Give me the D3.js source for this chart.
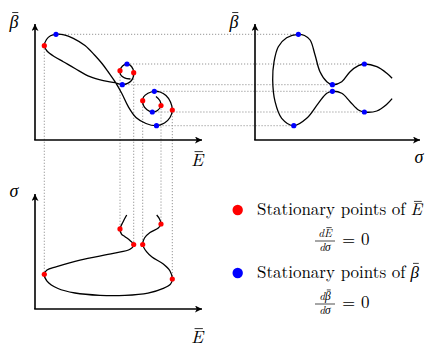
<!DOCTYPE html>
<html lang="en">
<head>
<meta charset="utf-8">
<script src="https://d3js.org/d3.v7.min.js"></script>
<style>
    body { margin: 0; background: #fff; }
    svg { display: block; }
    .curve { fill: none; stroke: #000; stroke-width: 1.3; }
    .guide { fill: none; stroke: #8a8a8a; stroke-width: 0.9; stroke-dasharray: 1.2,1.8; }
    .axis { stroke: #000; stroke-width: 1.6; }
</style>
</head>
<body>
<svg id="chart" width="436" height="354"></svg>
<script>
    // Solution branch seen in the (E, beta) plane, following the parameter along the curve
    const curveEBeta = [
        [9.55,6.10],[8.95,6.22],[8.58,6.50],[8.50,6.93],[8.75,7.40],[9.20,7.60],[9.65,7.35],
        [9.87,6.73],[9.65,5.95],[8.73,5.53],[8.00,5.73],[6.83,5.93],[5.50,6.33],[4.00,7.15],
        [2.83,7.83],[2.00,8.30],[1.20,8.90],[0.93,9.43],[1.15,10.05],[1.55,10.42],[2.10,10.57],
        [2.90,10.52],[3.83,10.17],[5.00,9.45],[6.00,8.45],[6.70,7.65],[7.33,6.80],[8.00,5.83],
        [8.67,4.67],[9.33,3.33],[10.10,2.25],[11.10,1.65],[12.15,1.43],[12.95,1.70],[13.50,2.25],
        [13.73,3.00],[13.55,3.80],[13.10,4.45],[12.50,4.80],[11.93,4.87],[11.30,4.68],[10.85,4.30],
        [10.77,3.93],[10.85,3.45],[11.20,3.02],[11.73,2.80],[12.25,2.95],[12.60,3.45],[12.48,3.95],
        [12.10,4.35]
    ];

    // Same branch in the (sigma, beta) plane
    const curveSigmaBeta = [
        [8.06,6.17],[7.75,6.67],[7.16,7.33],[6.43,7.60],[6.08,7.43],[5.59,6.83],[5.10,5.83],
        [4.55,5.53],[4.22,5.83],[3.82,6.83],[3.53,8.50],[3.24,10.00],[2.91,10.45],[2.55,10.57],
        [1.86,10.23],[1.37,9.33],[1.12,7.83],[1.04,6.00],[1.18,3.83],[1.57,2.17],[2.28,1.43],
        [3.04,2.17],[3.72,3.67],[4.22,4.67],[4.55,4.87],[5.10,4.67],[5.59,3.83],[6.08,3.00],
        [6.43,2.80],[7.16,2.90],[7.75,3.57],[8.06,4.13]
    ];

    // Same branch in the (E, sigma) plane
    const curveESigma = [
        [9.17,8.17],[8.80,7.57],[8.50,6.96],[8.65,6.52],[9.00,6.29],[9.50,5.96],[9.87,5.61],
        [9.50,5.19],[7.83,4.84],[4.50,4.26],[2.17,3.68],[1.20,3.39],[0.93,3.02],[1.20,2.43],
        [2.30,1.78],[4.00,1.39],[6.50,1.19],[9.00,1.19],[11.30,1.39],[12.83,1.80],[13.55,2.17],
        [13.73,2.61],[13.50,3.30],[12.83,3.91],[11.70,4.52],[11.17,4.96],[10.77,5.61],[10.95,6.17],
        [11.50,6.65],[12.33,7.04],[12.60,7.39],[12.45,7.83],[12.17,8.17]
    ];

    // Stationary points: [E, beta, sigma]
    const redPoints = [
        [0.93, 9.43, 3.02], [8.50, 6.93, 6.96], [9.87, 6.73, 5.61],
        [10.77, 3.93, 5.61], [12.60, 3.45, 7.39], [13.73, 3.00, 2.61]
    ];
    const bluePoints = [
        [2.10, 10.57, 2.55], [9.20, 7.60, 6.43], [8.73, 5.53, 4.55],
        [11.93, 4.87, 4.55], [11.73, 2.80, 6.43], [12.15, 1.43, 2.28]
    ];

    const legendColors = ["#ff0000", "#0000ff"];
    const legendText = ["Stationary points of", "Stationary points of"];
    const legendSymbols = ["E", "β"];

    const FONT = "Latin Modern Roman, Liberation Serif, serif";
    const svg = d3.select("#chart");

    // Scales (no ticks in this sketch, only the axis arrows)
    const xE = d3.scaleLinear().domain([0, 16.7]).range([35, 202]);
    const yB = d3.scaleLinear().domain([0, 11.6]).range([140, 24]);
    const xS = d3.scaleLinear().domain([0, 9.7]).range([255, 420]);
    const yS = d3.scaleLinear().domain([0, 10]).range([309, 194]);

    svg.append("defs").append("marker")
        .attr("id", "arrow")
        .attr("viewBox", "0 0 10 10")
        .attr("refX", 10).attr("refY", 5)
        .attr("markerUnits", "userSpaceOnUse")
        .attr("markerWidth", 8).attr("markerHeight", 7)
        .attr("orient", "auto")
        .append("path").attr("d", "M0,0L10,5L0,10L2.5,5Z").attr("fill", "#000");

    // Dotted guides first, so the curves sit on top
    const guides = svg.append("g");
    bluePoints.forEach(p => {
        guides.append("line").attr("class", "guide")
            .attr("x1", xE(p[0])).attr("y1", yB(p[1]))
            .attr("x2", xS(p[2])).attr("y2", yB(p[1]));
    });
    redPoints.forEach(p => {
        guides.append("line").attr("class", "guide")
            .attr("x1", xE(p[0])).attr("y1", yB(p[1]))
            .attr("x2", xE(p[0])).attr("y2", yS(p[2]));
    });

    // Axes
    function axes(x, y) {
        const x0 = x.range()[0], y0 = y.range()[0];
        svg.append("line").attr("class", "axis")
            .attr("x1", x0).attr("y1", y0).attr("x2", x0).attr("y2", y.range()[1])
            .attr("marker-end", "url(#arrow)");
        svg.append("line").attr("class", "axis")
            .attr("x1", x0 - 0.8).attr("y1", y0).attr("x2", x.range()[1]).attr("y2", y0)
            .attr("marker-end", "url(#arrow)");
    }
    axes(xE, yB);
    axes(xS, yB);
    axes(xE, yS);

    // Curves
    function drawCurve(data, x, y) {
        const line = d3.line()
            .x(d => x(d[0])).y(d => y(d[1]))
            .curve(d3.curveCatmullRom.alpha(0.5));
        svg.append("path").attr("class", "curve").attr("d", line(data));
    }
    drawCurve(curveEBeta, xE, yB);
    drawCurve(curveSigmaBeta, xS, yB);
    drawCurve(curveESigma, xE, yS);

    // Stationary point markers
    function dots(data, cx, cy, color) {
        svg.append("g").selectAll("circle").data(data).join("circle")
            .attr("cx", cx).attr("cy", cy).attr("r", 2.6).attr("fill", color);
    }
    dots(redPoints, d => xE(d[0]), d => yB(d[1]), legendColors[0]);
    dots(redPoints, d => xE(d[0]), d => yS(d[2]), legendColors[0]);
    dots(bluePoints, d => xE(d[0]), d => yB(d[1]), legendColors[1]);
    dots(bluePoints, d => xS(d[2]), d => yB(d[1]), legendColors[1]);

    function mathText(x, y, s, size, anchor) {
        return svg.append("text")
            .attr("font-family", FONT).attr("font-style", "italic")
            .attr("x", x).attr("y", y).attr("font-size", size)
            .attr("text-anchor", anchor || "middle").text(s);
    }
    // Overbar on character `idx` of an italic text
    function overbar(t, idx, y, size, sym) {
        const b = t.node().getExtentOfChar(idx);
        const yy = y - size * (sym === "β" ? 0.86 : 0.80);
        svg.append("line")
            .attr("x1", b.x + b.width * 0.3).attr("x2", b.x + b.width * 0.98)
            .attr("y1", yy).attr("y2", yy)
            .attr("stroke", "#000").attr("stroke-width", Math.max(0.7, size * 0.045));
    }
    function barSymbol(x, y, s, size, anchor) {
        const t = mathText(x, y, s, size, anchor);
        overbar(t, 0, y, size, s);
        return t;
    }

    // Axis labels
    barSymbol(14, 28, "β", 18);
    barSymbol(197, 166, "E", 18);
    barSymbol(234, 28, "β", 18);
    mathText(419, 163, "σ", 18);
    mathText(14, 197, "σ", 18);
    barSymbol(197, 343, "E", 18);

    // Legend
    const legendY = [215, 278];
    const fracY = [241, 304];
    legendText.forEach((txt, i) => {
        const y = legendY[i];
        svg.append("circle").attr("cx", 237.7).attr("cy", y - 5).attr("r", 5.2)
            .attr("fill", legendColors[i]);
        const t = svg.append("text").attr("font-family", FONT)
            .attr("x", 257).attr("y", y).attr("font-size", 17).text(txt);
        const w = t.node().getComputedTextLength();
        barSymbol(257 + w + 5, y, legendSymbols[i], 17, "start");

        // d(symbol)/d sigma = 0, numerator and denominator in one text element
        const fy = fracY[i], cx = 325;
        const frac = svg.append("text")
            .attr("font-family", FONT).attr("font-style", "italic")
            .attr("font-size", 11.5).attr("text-anchor", "middle");
        frac.append("tspan").attr("x", cx).attr("y", fy - 4.2).text("d" + legendSymbols[i]);
        frac.append("tspan").attr("x", cx).attr("y", fy + 10.2).text("dσ");
        overbar(frac, 1, fy - 4.2, 11.5, legendSymbols[i]);
        svg.append("line").attr("x1", cx - 10).attr("x2", cx + 10)
            .attr("y1", fy).attr("y2", fy).attr("stroke", "#000").attr("stroke-width", 0.7);
        svg.append("text").attr("font-family", FONT)
            .attr("x", 342).attr("y", fy + 4).attr("font-size", 17).text("= 0");
    });
</script>
</body>
</html>
